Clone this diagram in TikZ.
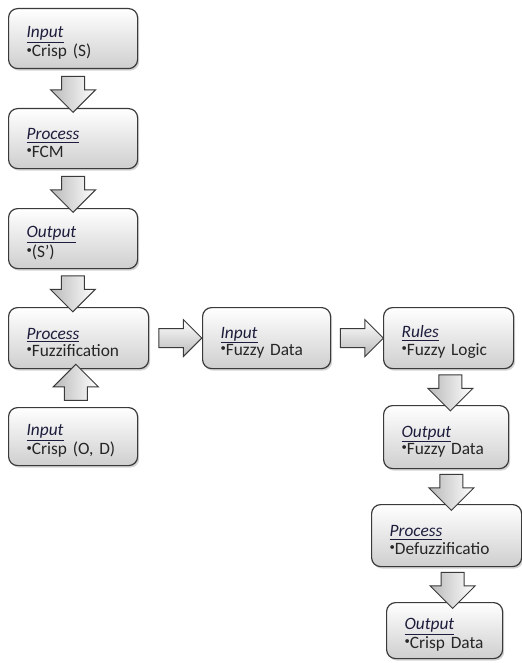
\documentclass[tikz,border=0pt]{standalone}
\usepackage{fontspec}
\setmainfont{Carlito}
\usetikzlibrary{shapes.arrows,shadows,calc}
\newdimen\px \px=0.75pt
\definecolor{boxline}{HTML}{3A3A3A}
\definecolor{titlecol}{HTML}{1C1C3C}
\newcommand{\stage}[2]{\rule{0pt}{15pt}{\color{titlecol}\underline{\textit{#1}}}\\\mbox{{\fontsize{8}{8}\selectfont\raisebox{2.8pt}{•}}#2}}

\begin{document}
\begin{tikzpicture}[x=1\px,y=-1\px,
  block/.style={rectangle,rounded corners=9\px,draw=boxline,line width=1.2\px,
    top color=white,bottom color=gray!38,
    drop shadow={shadow xshift=1.6\px,shadow yshift=-2\px,opacity=0.35},
    anchor=north west,align=left,inner xsep=18\px,inner ysep=0pt,
    text width=#1\px,font=\fontsize{13}{13}\selectfont,text=black!85},
  fat/.style={single arrow,draw=boxline,line width=1\px,inner sep=11\px,
    minimum width=0pt,single arrow head extend=11\px,
    left color=gray!55,right color=white},
  fatright/.style={fat,shape border rotate=0,inner sep=9\px,
    single arrow head extend=9\px,top color=white,bottom color=gray!55}]
\useasboundingbox (0,0) rectangle (521,663);
\path
(8,8) node [block=93,minimum height=60\px] (in1) {\stage{Input}{Crisp (S)}}
(8,108) node [block=93,minimum height=60\px] (pr1) {\stage{Process}{FCM}}
(8,208) node [block=93,minimum height=60\px] (out1) {\stage{Output}{(S')}}
(8,307) node [block=104,minimum height=61\px] (pr2) {\stage{Process}{Fuzzification}}
(8,407) node [block=93,minimum height=58\px] (in2) {\stage{Input}{Crisp (O, D)}}
(202,307) node [block=92,minimum height=61\px] (fd) {\stage{Input}{Fuzzy Data}}
(383,307) node [block=94,minimum height=61\px] (ru) {\stage{Rules}{Fuzzy Logic}}
(383,405) node [block=89,minimum height=63\px] (out2) {\stage{Output}{Fuzzy Data}}
(371,504) node [block=114,minimum height=62\px] (pr3) {\stage{Process}{Defuzzificatio}}
(386,602) node [block=80,minimum height=56\px] (out3) {\stage{Output}{Crisp Data}}
;

% block arrows between the stages
\begin{scope}[every node/.style={minimum height=36\px}]
\node [fat,shape border rotate=270] (a1) at ($(in1.south)!0.5!(pr1.north)$) {};
\node [fat,shape border rotate=270] (a2) at ($(pr1.south)!0.5!(out1.north)$) {};
\node [fat,shape border rotate=270] (a3) at ($(out1.south)!0.5!(pr2.north)+(-3,0)$) {};
\node [fat,shape border rotate=90] (a4) at ($(in2.north)!0.5!(pr2.south)$) {};
\node [fatright,minimum height=43\px] (a5) at ($(pr2.east)!0.5!(fd.west)$) {};
\node [fatright,minimum height=43\px] (a6) at ($(fd.east)!0.5!(ru.west)$) {};
\node [fat,shape border rotate=270] (a7) at ($(ru.south)!0.5!(out2.north)+(3,0)$) {};
\node [fat,shape border rotate=270] (a8) at ($(out2.south)!0.5!(pr3.north)+(5,0)$) {};
\node [fat,shape border rotate=270] (a9) at ($(pr3.south)!0.5!(out3.north)+(7,0)$) {};
\end{scope}
\end{tikzpicture}
\end{document}
